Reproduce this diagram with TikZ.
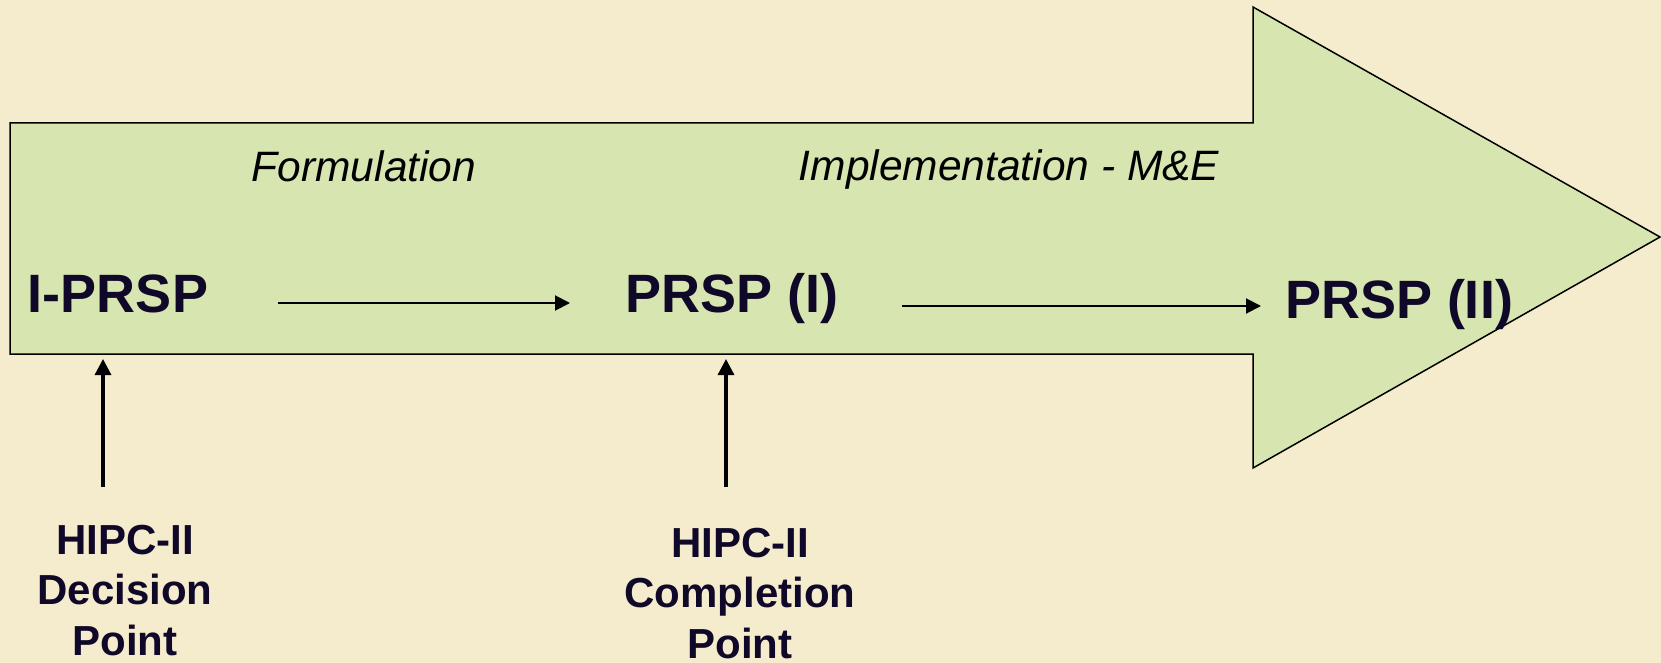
\documentclass[tikz,border=0pt]{standalone}
\usepackage{fontspec}
\setmainfont{Liberation Sans}
\usetikzlibrary{arrows.meta}
\definecolor{bgcol}{RGB}{245,236,206}
\definecolor{arrowfill}{RGB}{215,229,176}
\definecolor{txtcol}{RGB}{16,8,40}
\tikzset{
  bigarrow/.style={draw=black, line width=1.5pt, fill=arrowfill, line join=miter},
  stage/.style={anchor=base, inner sep=0pt, text=txtcol, font=\fontsize{54}{60}\selectfont\bfseries},
  phase/.style={anchor=base, inner sep=0pt, text=black, font=\fontsize{42.5}{50}\selectfont\itshape},
  point/.style={anchor=base, inner sep=0pt, text=txtcol, align=center, font=\fontsize{42}{50.5}\selectfont\bfseries},
  flow/.style={draw=black, line width=2pt, -{Triangle[length=15pt,width=15pt]}},
  uparrow/.style={draw=black, line width=3.2pt, -{Triangle[length=16pt,width=16pt]}}
}
\begin{document}
\begin{tikzpicture}[x=1pt,y=-1pt]
\useasboundingbox[fill=bgcol] (0,0) rectangle (1661,663);
\path[bigarrow] (10,123) -- (1253,123) -- (1253,7) -- (1660,237) -- (1253,468) -- (1253,354) -- (10,354) -- cycle;
\node[phase] (form) at (364,182) {Formulation};
\node[phase] (impl) at (1009,181) {Implementation - M\&E};
\node[stage] (iprsp) at (118,312) {I-PRSP};
\node[stage] (prsp1) at (732,312) {PRSP (I)};
\node[stage] (prsp2) at (1399,318) {PRSP (II)};
\node[point] (dec) at (125,655) {HIPC-II\\Decision\\Point};
\node[point] (comp) at (740,658) {HIPC-II\\Completion\\Point};
\coordinate (f1s) at (278,303);
\coordinate (f1e) at (570,303);
\coordinate (f2s) at (902,306);
\coordinate (f2e) at (1261,306);
\coordinate (u1s) at (103,487);
\coordinate (u1e) at (103,359);
\coordinate (u2s) at (726,487);
\coordinate (u2e) at (726,359);
\draw[flow] (f1s) -- (f1e);
\draw[flow] (f2s) -- (f2e);
\draw[uparrow] (u1s) -- (u1e);
\draw[uparrow] (u2s) -- (u2e);
\end{tikzpicture}
\end{document}
